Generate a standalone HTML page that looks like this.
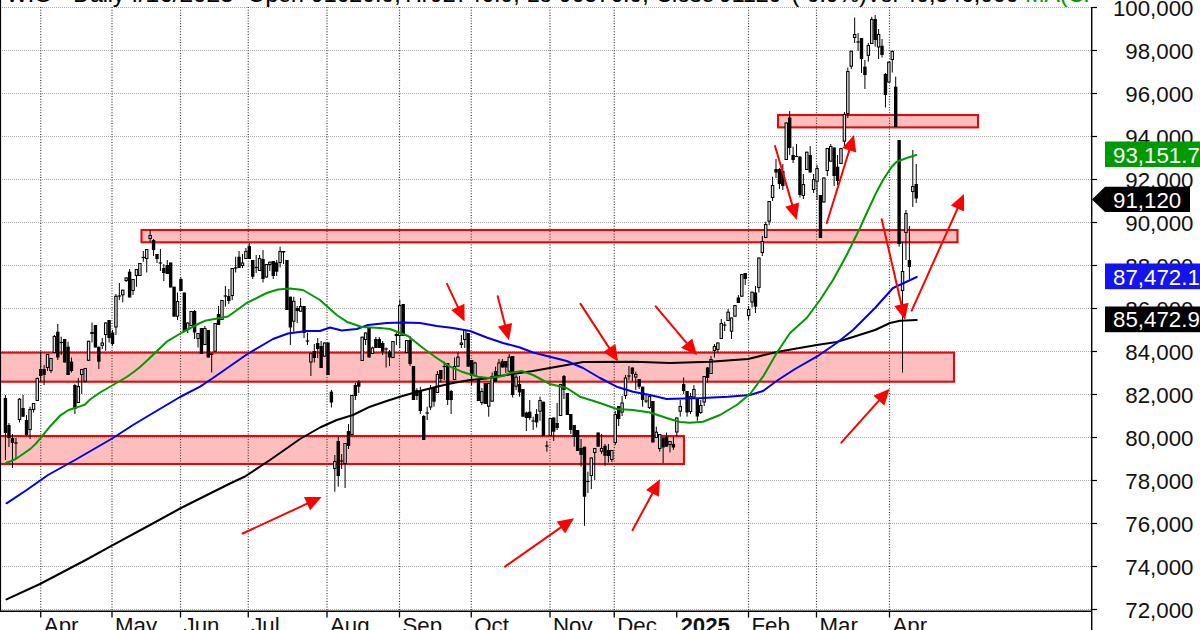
<!DOCTYPE html>
<html><head><meta charset="utf-8"><title>WIG - Daily</title>
<style>html,body{margin:0;padding:0;background:#fff;}svg{display:block;}text{font-family:"Liberation Sans",sans-serif;}</style></head>
<body>
<svg width="1200" height="630" viewBox="0 0 1200 630">
<rect x="0" y="0" width="1200" height="630" fill="#fff"/>
<g fill="#ffbebe" stroke="none">
<rect x="-3" y="352.6" width="957" height="29.1"/>
<rect x="-3" y="436" width="687" height="28.0"/>
<rect x="141.5" y="230" width="816.0" height="12.3"/>
<rect x="778" y="115" width="200" height="12.4"/>
</g>
<g stroke-width="1" fill="none">
<line x1="2" y1="609.5" x2="1091" y2="609.5" stroke="#a8a8a8" stroke-dasharray="1 1"/>
<line x1="2" y1="566.5" x2="1091" y2="566.5" stroke="#a8a8a8" stroke-dasharray="1 1"/>
<line x1="2" y1="523.5" x2="1091" y2="523.5" stroke="#a8a8a8" stroke-dasharray="1 1"/>
<line x1="2" y1="480.5" x2="1091" y2="480.5" stroke="#a8a8a8" stroke-dasharray="1 1"/>
<line x1="2" y1="437.5" x2="1091" y2="437.5" stroke="#a8a8a8" stroke-dasharray="1 1"/>
<line x1="2" y1="394.5" x2="1091" y2="394.5" stroke="#a8a8a8" stroke-dasharray="1 1"/>
<line x1="2" y1="351.5" x2="1091" y2="351.5" stroke="#a8a8a8" stroke-dasharray="1 1"/>
<line x1="2" y1="308.5" x2="1091" y2="308.5" stroke="#a8a8a8" stroke-dasharray="1 1"/>
<line x1="2" y1="265.5" x2="1091" y2="265.5" stroke="#a8a8a8" stroke-dasharray="1 1"/>
<line x1="2" y1="222.5" x2="1091" y2="222.5" stroke="#a8a8a8" stroke-dasharray="1 1"/>
<line x1="2" y1="179.5" x2="1091" y2="179.5" stroke="#a8a8a8" stroke-dasharray="1 1"/>
<line x1="2" y1="136.5" x2="1091" y2="136.5" stroke="#a8a8a8" stroke-dasharray="1 1"/>
<line x1="2" y1="93.5" x2="1091" y2="93.5" stroke="#a8a8a8" stroke-dasharray="1 1"/>
<line x1="2" y1="50.5" x2="1091" y2="50.5" stroke="#a8a8a8" stroke-dasharray="1 1"/>
<line x1="2" y1="7.5" x2="1091" y2="7.5" stroke="#a8a8a8" stroke-dasharray="1 1"/>
<line x1="40.75" y1="7" x2="40.75" y2="611" stroke="#3a3a3a" stroke-width="1.2" stroke-dasharray="1 1.7"/>
<line x1="112.00" y1="7" x2="112.00" y2="611" stroke="#3a3a3a" stroke-width="1.2" stroke-dasharray="1 1.7"/>
<line x1="180.50" y1="7" x2="180.50" y2="611" stroke="#3a3a3a" stroke-width="1.2" stroke-dasharray="1 1.7"/>
<line x1="248.25" y1="7" x2="248.25" y2="611" stroke="#3a3a3a" stroke-width="1.2" stroke-dasharray="1 1.7"/>
<line x1="327.00" y1="7" x2="327.00" y2="611" stroke="#3a3a3a" stroke-width="1.2" stroke-dasharray="1 1.7"/>
<line x1="399.50" y1="7" x2="399.50" y2="611" stroke="#3a3a3a" stroke-width="1.2" stroke-dasharray="1 1.7"/>
<line x1="471.25" y1="7" x2="471.25" y2="611" stroke="#3a3a3a" stroke-width="1.2" stroke-dasharray="1 1.7"/>
<line x1="550.00" y1="7" x2="550.00" y2="611" stroke="#3a3a3a" stroke-width="1.2" stroke-dasharray="1 1.7"/>
<line x1="614.25" y1="7" x2="614.25" y2="611" stroke="#3a3a3a" stroke-width="1.2" stroke-dasharray="1 1.7"/>
<line x1="748.50" y1="7" x2="748.50" y2="611" stroke="#3a3a3a" stroke-width="1.2" stroke-dasharray="1 1.7"/>
<line x1="816.50" y1="7" x2="816.50" y2="611" stroke="#3a3a3a" stroke-width="1.2" stroke-dasharray="1 1.7"/>
<line x1="889.50" y1="7" x2="889.50" y2="611" stroke="#3a3a3a" stroke-width="1.2" stroke-dasharray="1 1.7"/>
</g>
<g fill="none" stroke="#e00a0a" stroke-width="2.1">
<rect x="-3" y="352.6" width="957" height="29.1"/>
<rect x="-3" y="436" width="687" height="28.0"/>
<rect x="141.5" y="230" width="816.0" height="12.3"/>
<rect x="778" y="115" width="200" height="12.4"/>
</g>
<g stroke="#000" stroke-width="1">
<line x1="5.42" y1="395.0" x2="5.42" y2="460.0"/>
<rect x="3.72" y="398.0" width="3.4" height="35.0" fill="#000" stroke="none"/>
<line x1="8.94" y1="423.0" x2="8.94" y2="447.0"/>
<rect x="7.24" y="425.0" width="3.4" height="13.0" fill="#000" stroke="none"/>
<line x1="12.46" y1="434.0" x2="12.46" y2="468.0"/>
<rect x="10.76" y="438.0" width="3.4" height="5.0" fill="#000" stroke="none"/>
<line x1="15.98" y1="438.0" x2="15.98" y2="458.0"/>
<rect x="14.28" y="442.4" width="3.4" height="1.2" fill="#000" stroke="none"/>
<line x1="19.50" y1="398.0" x2="19.50" y2="422.5"/>
<rect x="18.30" y="399.2" width="2.4" height="20.3" fill="#e4e4e4" stroke-width="1.05"/>
<line x1="23.02" y1="395.0" x2="23.02" y2="417.0"/>
<rect x="21.32" y="408.0" width="3.4" height="8.7" fill="#000" stroke="none"/>
<line x1="26.54" y1="415.0" x2="26.54" y2="436.0"/>
<rect x="24.84" y="420.0" width="3.4" height="15.0" fill="#000" stroke="none"/>
<line x1="30.06" y1="406.7" x2="30.06" y2="439.0"/>
<rect x="28.86" y="409.5" width="2.4" height="20.0" fill="#e4e4e4" stroke-width="1.05"/>
<line x1="33.58" y1="403.0" x2="33.58" y2="412.5"/>
<rect x="32.38" y="403.5" width="2.4" height="6.0" fill="#e4e4e4" stroke-width="1.05"/>
<line x1="37.28" y1="377.5" x2="37.28" y2="401.0"/>
<rect x="36.08" y="378.5" width="2.4" height="22.0" fill="#e4e4e4" stroke-width="1.05"/>
<line x1="40.70" y1="351.7" x2="40.70" y2="381.7"/>
<rect x="39.00" y="369.0" width="3.4" height="7.0" fill="#000" stroke="none"/>
<line x1="44.12" y1="365.0" x2="44.12" y2="385.0"/>
<rect x="42.42" y="369.0" width="3.4" height="6.0" fill="#000" stroke="none"/>
<line x1="47.54" y1="354.0" x2="47.54" y2="371.0"/>
<rect x="46.34" y="354.5" width="2.4" height="13.0" fill="#e4e4e4" stroke-width="1.05"/>
<line x1="50.96" y1="358.0" x2="50.96" y2="373.0"/>
<rect x="49.76" y="358.5" width="2.4" height="12.0" fill="#e4e4e4" stroke-width="1.05"/>
<line x1="54.38" y1="335.0" x2="54.38" y2="353.0"/>
<rect x="53.18" y="336.5" width="2.4" height="16.0" fill="#e4e4e4" stroke-width="1.05"/>
<line x1="57.80" y1="324.0" x2="57.80" y2="360.0"/>
<rect x="56.10" y="331.7" width="3.4" height="25.8" fill="#000" stroke="none"/>
<line x1="61.22" y1="336.7" x2="61.22" y2="355.0"/>
<rect x="59.52" y="341.9" width="3.4" height="1.2" fill="#000" stroke="none"/>
<line x1="64.64" y1="339.0" x2="64.64" y2="362.5"/>
<rect x="62.94" y="339.0" width="3.4" height="23.5" fill="#000" stroke="none"/>
<line x1="68.06" y1="341.7" x2="68.06" y2="375.0"/>
<rect x="66.36" y="346.7" width="3.4" height="28.3" fill="#000" stroke="none"/>
<line x1="71.48" y1="357.5" x2="71.48" y2="372.5"/>
<rect x="69.78" y="361.7" width="3.4" height="9.3" fill="#000" stroke="none"/>
<line x1="74.90" y1="384.0" x2="74.90" y2="414.0"/>
<rect x="73.20" y="385.0" width="3.4" height="24.0" fill="#000" stroke="none"/>
<line x1="78.32" y1="378.0" x2="78.32" y2="403.0"/>
<rect x="77.12" y="386.5" width="2.4" height="16.0" fill="#e4e4e4" stroke-width="1.05"/>
<line x1="81.74" y1="369.0" x2="81.74" y2="394.0"/>
<rect x="80.54" y="369.5" width="2.4" height="5.0" fill="#e4e4e4" stroke-width="1.05"/>
<line x1="85.16" y1="368.0" x2="85.16" y2="382.5"/>
<rect x="83.96" y="368.5" width="2.4" height="12.7" fill="#e4e4e4" stroke-width="1.05"/>
<line x1="88.58" y1="340.8" x2="88.58" y2="360.8"/>
<rect x="87.38" y="341.3" width="2.4" height="19.0" fill="#e4e4e4" stroke-width="1.05"/>
<line x1="92.00" y1="322.5" x2="92.00" y2="342.5"/>
<rect x="90.30" y="332.0" width="3.4" height="2.0" fill="#000" stroke="none"/>
<line x1="95.42" y1="325.0" x2="95.42" y2="347.5"/>
<rect x="93.72" y="325.0" width="3.4" height="22.5" fill="#000" stroke="none"/>
<line x1="98.84" y1="346.7" x2="98.84" y2="369.0"/>
<rect x="97.14" y="346.7" width="3.4" height="15.0" fill="#000" stroke="none"/>
<line x1="102.26" y1="338.0" x2="102.26" y2="349.0"/>
<rect x="101.06" y="343.0" width="2.4" height="2.3" fill="#e4e4e4" stroke-width="1.05"/>
<line x1="105.68" y1="322.5" x2="105.68" y2="350.8"/>
<rect x="104.48" y="323.0" width="2.4" height="11.5" fill="#e4e4e4" stroke-width="1.05"/>
<line x1="109.10" y1="320.0" x2="109.10" y2="342.5"/>
<rect x="107.40" y="320.0" width="3.4" height="18.0" fill="#000" stroke="none"/>
<line x1="112.52" y1="330.0" x2="112.52" y2="345.8"/>
<rect x="110.82" y="332.5" width="3.4" height="11.5" fill="#000" stroke="none"/>
<line x1="115.94" y1="294.0" x2="115.94" y2="335.0"/>
<rect x="114.74" y="296.3" width="2.4" height="30.7" fill="#e4e4e4" stroke-width="1.05"/>
<line x1="119.36" y1="283.0" x2="119.36" y2="300.0"/>
<rect x="117.66" y="295.4" width="3.4" height="1.2" fill="#000" stroke="none"/>
<line x1="122.78" y1="289.7" x2="122.78" y2="302.5"/>
<rect x="121.58" y="290.2" width="2.4" height="4.6" fill="#e4e4e4" stroke-width="1.05"/>
<line x1="126.20" y1="277.0" x2="126.20" y2="282.0"/>
<rect x="125.00" y="278.0" width="2.4" height="2.5" fill="#e4e4e4" stroke-width="1.05"/>
<line x1="129.62" y1="269.0" x2="129.62" y2="297.5"/>
<rect x="127.92" y="271.7" width="3.4" height="25.8" fill="#000" stroke="none"/>
<line x1="133.04" y1="279.0" x2="133.04" y2="295.0"/>
<rect x="131.84" y="279.5" width="2.4" height="11.0" fill="#e4e4e4" stroke-width="1.05"/>
<line x1="136.46" y1="269.0" x2="136.46" y2="286.7"/>
<rect x="135.26" y="269.5" width="2.4" height="6.0" fill="#e4e4e4" stroke-width="1.05"/>
<line x1="139.88" y1="263.0" x2="139.88" y2="276.0"/>
<rect x="138.68" y="263.5" width="2.4" height="12.0" fill="#e4e4e4" stroke-width="1.05"/>
<line x1="143.30" y1="251.0" x2="143.30" y2="261.7"/>
<rect x="141.60" y="256.9" width="3.4" height="1.2" fill="#000" stroke="none"/>
<line x1="146.72" y1="249.0" x2="146.72" y2="272.5"/>
<rect x="145.52" y="249.5" width="2.4" height="9.0" fill="#e4e4e4" stroke-width="1.05"/>
<line x1="150.14" y1="230.0" x2="150.14" y2="241.7"/>
<rect x="148.94" y="235.5" width="2.4" height="3.0" fill="#e4e4e4" stroke-width="1.05"/>
<line x1="153.56" y1="239.0" x2="153.56" y2="256.0"/>
<rect x="151.86" y="240.0" width="3.4" height="10.0" fill="#000" stroke="none"/>
<line x1="156.98" y1="254.0" x2="156.98" y2="263.0"/>
<rect x="155.28" y="254.0" width="3.4" height="5.0" fill="#000" stroke="none"/>
<line x1="160.40" y1="249.0" x2="160.40" y2="271.0"/>
<rect x="158.70" y="262.4" width="3.4" height="1.2" fill="#000" stroke="none"/>
<line x1="163.82" y1="264.0" x2="163.82" y2="281.0"/>
<rect x="162.12" y="268.0" width="3.4" height="5.0" fill="#000" stroke="none"/>
<line x1="167.24" y1="260.0" x2="167.24" y2="274.0"/>
<rect x="165.54" y="265.0" width="3.4" height="9.0" fill="#000" stroke="none"/>
<line x1="170.66" y1="262.5" x2="170.66" y2="287.5"/>
<rect x="168.96" y="262.5" width="3.4" height="25.0" fill="#000" stroke="none"/>
<line x1="174.08" y1="286.7" x2="174.08" y2="316.7"/>
<rect x="172.38" y="286.7" width="3.4" height="30.0" fill="#000" stroke="none"/>
<line x1="177.50" y1="292.5" x2="177.50" y2="320.0"/>
<rect x="176.30" y="301.5" width="2.4" height="14.7" fill="#e4e4e4" stroke-width="1.05"/>
<line x1="180.92" y1="277.5" x2="180.92" y2="291.0"/>
<rect x="179.22" y="279.0" width="3.4" height="12.0" fill="#000" stroke="none"/>
<line x1="184.34" y1="292.5" x2="184.34" y2="331.0"/>
<rect x="182.64" y="292.5" width="3.4" height="38.5" fill="#000" stroke="none"/>
<line x1="187.76" y1="322.5" x2="187.76" y2="333.0"/>
<rect x="186.56" y="323.0" width="2.4" height="6.5" fill="#e4e4e4" stroke-width="1.05"/>
<line x1="191.18" y1="311.0" x2="191.18" y2="326.0"/>
<rect x="189.98" y="311.5" width="2.4" height="14.0" fill="#e4e4e4" stroke-width="1.05"/>
<line x1="194.60" y1="310.0" x2="194.60" y2="339.0"/>
<rect x="192.90" y="311.0" width="3.4" height="21.5" fill="#000" stroke="none"/>
<line x1="198.02" y1="333.0" x2="198.02" y2="347.5"/>
<rect x="196.82" y="333.5" width="2.4" height="5.0" fill="#e4e4e4" stroke-width="1.05"/>
<line x1="201.44" y1="328.0" x2="201.44" y2="354.0"/>
<rect x="199.74" y="328.0" width="3.4" height="26.0" fill="#000" stroke="none"/>
<line x1="204.86" y1="326.0" x2="204.86" y2="345.0"/>
<rect x="203.66" y="328.5" width="2.4" height="16.0" fill="#e4e4e4" stroke-width="1.05"/>
<line x1="208.28" y1="330.0" x2="208.28" y2="357.5"/>
<rect x="206.58" y="330.0" width="3.4" height="27.5" fill="#000" stroke="none"/>
<line x1="211.70" y1="353.0" x2="211.70" y2="372.5"/>
<rect x="210.00" y="353.5" width="3.4" height="1.5" fill="#000" stroke="none"/>
<line x1="215.12" y1="323.0" x2="215.12" y2="351.7"/>
<rect x="213.92" y="323.5" width="2.4" height="27.7" fill="#e4e4e4" stroke-width="1.05"/>
<line x1="218.54" y1="306.0" x2="218.54" y2="325.0"/>
<rect x="216.84" y="314.0" width="3.4" height="11.0" fill="#000" stroke="none"/>
<line x1="221.96" y1="300.0" x2="221.96" y2="320.0"/>
<rect x="220.76" y="300.5" width="2.4" height="19.0" fill="#e4e4e4" stroke-width="1.05"/>
<line x1="225.38" y1="286.0" x2="225.38" y2="306.7"/>
<rect x="223.68" y="295.4" width="3.4" height="1.2" fill="#000" stroke="none"/>
<line x1="228.80" y1="289.0" x2="228.80" y2="304.0"/>
<rect x="227.10" y="296.0" width="3.4" height="5.0" fill="#000" stroke="none"/>
<line x1="232.22" y1="268.0" x2="232.22" y2="300.0"/>
<rect x="231.02" y="268.5" width="2.4" height="27.0" fill="#e4e4e4" stroke-width="1.05"/>
<line x1="235.64" y1="256.7" x2="235.64" y2="272.5"/>
<rect x="233.94" y="267.4" width="3.4" height="1.2" fill="#000" stroke="none"/>
<line x1="239.06" y1="251.0" x2="239.06" y2="268.0"/>
<rect x="237.36" y="256.7" width="3.4" height="11.3" fill="#000" stroke="none"/>
<line x1="242.48" y1="254.0" x2="242.48" y2="268.0"/>
<rect x="241.28" y="263.0" width="2.4" height="2.5" fill="#e4e4e4" stroke-width="1.05"/>
<line x1="245.90" y1="248.0" x2="245.90" y2="259.0"/>
<rect x="244.70" y="251.5" width="2.4" height="7.0" fill="#e4e4e4" stroke-width="1.05"/>
<line x1="249.32" y1="243.0" x2="249.32" y2="259.0"/>
<rect x="247.62" y="246.0" width="3.4" height="13.0" fill="#000" stroke="none"/>
<line x1="252.74" y1="260.0" x2="252.74" y2="279.0"/>
<rect x="251.04" y="260.0" width="3.4" height="16.7" fill="#000" stroke="none"/>
<line x1="256.16" y1="255.0" x2="256.16" y2="273.0"/>
<rect x="254.46" y="266.9" width="3.4" height="1.2" fill="#000" stroke="none"/>
<line x1="259.58" y1="255.0" x2="259.58" y2="271.0"/>
<rect x="258.38" y="258.5" width="2.4" height="12.0" fill="#e4e4e4" stroke-width="1.05"/>
<line x1="263.00" y1="250.0" x2="263.00" y2="282.5"/>
<rect x="261.30" y="259.0" width="3.4" height="20.0" fill="#000" stroke="none"/>
<line x1="266.42" y1="264.0" x2="266.42" y2="277.5"/>
<rect x="265.22" y="264.5" width="2.4" height="12.5" fill="#e4e4e4" stroke-width="1.05"/>
<line x1="269.84" y1="261.7" x2="269.84" y2="271.0"/>
<rect x="268.64" y="262.2" width="2.4" height="2.3" fill="#e4e4e4" stroke-width="1.05"/>
<line x1="273.26" y1="261.0" x2="273.26" y2="279.0"/>
<rect x="271.56" y="261.0" width="3.4" height="15.0" fill="#000" stroke="none"/>
<line x1="276.68" y1="260.0" x2="276.68" y2="276.0"/>
<rect x="274.98" y="262.5" width="3.4" height="9.2" fill="#000" stroke="none"/>
<line x1="280.10" y1="246.7" x2="280.10" y2="267.5"/>
<rect x="278.90" y="251.5" width="2.4" height="11.0" fill="#e4e4e4" stroke-width="1.05"/>
<line x1="283.52" y1="251.0" x2="283.52" y2="264.0"/>
<rect x="281.82" y="251.0" width="3.4" height="1.5" fill="#000" stroke="none"/>
<line x1="286.94" y1="260.0" x2="286.94" y2="310.0"/>
<rect x="285.24" y="260.0" width="3.4" height="50.0" fill="#000" stroke="none"/>
<line x1="290.36" y1="296.7" x2="290.36" y2="345.0"/>
<rect x="288.66" y="296.7" width="3.4" height="30.8" fill="#000" stroke="none"/>
<line x1="293.78" y1="296.7" x2="293.78" y2="331.7"/>
<rect x="292.58" y="301.3" width="2.4" height="19.9" fill="#e4e4e4" stroke-width="1.05"/>
<line x1="297.20" y1="306.0" x2="297.20" y2="323.0"/>
<rect x="295.50" y="308.0" width="3.4" height="3.0" fill="#000" stroke="none"/>
<line x1="300.62" y1="298.0" x2="300.62" y2="311.7"/>
<rect x="299.42" y="306.5" width="2.4" height="4.7" fill="#e4e4e4" stroke-width="1.05"/>
<line x1="304.04" y1="306.0" x2="304.04" y2="338.0"/>
<rect x="302.34" y="306.0" width="3.4" height="27.0" fill="#000" stroke="none"/>
<line x1="307.46" y1="332.5" x2="307.46" y2="345.0"/>
<rect x="305.76" y="340.4" width="3.4" height="1.2" fill="#000" stroke="none"/>
<line x1="310.88" y1="353.0" x2="310.88" y2="376.0"/>
<rect x="309.68" y="353.5" width="2.4" height="8.5" fill="#e4e4e4" stroke-width="1.05"/>
<line x1="314.30" y1="344.0" x2="314.30" y2="362.5"/>
<rect x="312.60" y="351.0" width="3.4" height="7.0" fill="#000" stroke="none"/>
<line x1="317.72" y1="338.0" x2="317.72" y2="358.0"/>
<rect x="316.02" y="343.0" width="3.4" height="6.0" fill="#000" stroke="none"/>
<line x1="321.14" y1="341.0" x2="321.14" y2="368.0"/>
<rect x="319.44" y="346.0" width="3.4" height="22.0" fill="#000" stroke="none"/>
<line x1="324.56" y1="342.5" x2="324.56" y2="356.7"/>
<rect x="323.36" y="343.0" width="2.4" height="13.2" fill="#e4e4e4" stroke-width="1.05"/>
<line x1="327.98" y1="342.5" x2="327.98" y2="375.0"/>
<rect x="326.28" y="342.5" width="3.4" height="32.5" fill="#000" stroke="none"/>
<line x1="331.40" y1="390.0" x2="331.40" y2="407.5"/>
<rect x="329.70" y="391.7" width="3.4" height="10.8" fill="#000" stroke="none"/>
<line x1="334.82" y1="455.0" x2="334.82" y2="491.7"/>
<rect x="333.62" y="461.5" width="2.4" height="7.0" fill="#e4e4e4" stroke-width="1.05"/>
<line x1="338.24" y1="436.7" x2="338.24" y2="486.7"/>
<rect x="336.54" y="441.0" width="3.4" height="35.0" fill="#000" stroke="none"/>
<line x1="341.66" y1="454.0" x2="341.66" y2="469.0"/>
<rect x="339.96" y="460.4" width="3.4" height="1.2" fill="#000" stroke="none"/>
<line x1="345.08" y1="443.0" x2="345.08" y2="488.0"/>
<rect x="343.88" y="443.5" width="2.4" height="20.0" fill="#e4e4e4" stroke-width="1.05"/>
<line x1="348.50" y1="424.0" x2="348.50" y2="449.0"/>
<rect x="346.80" y="431.0" width="3.4" height="15.0" fill="#000" stroke="none"/>
<line x1="351.92" y1="395.0" x2="351.92" y2="435.0"/>
<rect x="350.72" y="395.5" width="2.4" height="39.0" fill="#e4e4e4" stroke-width="1.05"/>
<line x1="355.34" y1="383.0" x2="355.34" y2="400.0"/>
<rect x="353.64" y="385.0" width="3.4" height="11.0" fill="#000" stroke="none"/>
<line x1="358.76" y1="380.0" x2="358.76" y2="393.0"/>
<rect x="357.06" y="381.7" width="3.4" height="5.0" fill="#000" stroke="none"/>
<line x1="362.18" y1="336.7" x2="362.18" y2="361.0"/>
<rect x="360.98" y="337.2" width="2.4" height="23.3" fill="#e4e4e4" stroke-width="1.05"/>
<line x1="365.60" y1="332.5" x2="365.60" y2="345.0"/>
<rect x="364.40" y="333.0" width="2.4" height="6.5" fill="#e4e4e4" stroke-width="1.05"/>
<line x1="369.02" y1="327.5" x2="369.02" y2="357.5"/>
<rect x="367.32" y="327.5" width="3.4" height="30.0" fill="#000" stroke="none"/>
<line x1="372.44" y1="346.7" x2="372.44" y2="354.0"/>
<rect x="371.24" y="348.0" width="2.4" height="5.5" fill="#e4e4e4" stroke-width="1.05"/>
<line x1="375.86" y1="337.0" x2="375.86" y2="348.0"/>
<rect x="374.16" y="339.0" width="3.4" height="9.0" fill="#000" stroke="none"/>
<line x1="379.28" y1="337.0" x2="379.28" y2="348.0"/>
<rect x="377.58" y="339.0" width="3.4" height="9.0" fill="#000" stroke="none"/>
<line x1="382.70" y1="341.0" x2="382.70" y2="355.0"/>
<rect x="381.00" y="343.0" width="3.4" height="8.7" fill="#000" stroke="none"/>
<line x1="386.12" y1="347.5" x2="386.12" y2="367.5"/>
<rect x="384.42" y="348.4" width="3.4" height="1.2" fill="#000" stroke="none"/>
<line x1="389.54" y1="350.0" x2="389.54" y2="366.0"/>
<rect x="387.84" y="351.7" width="3.4" height="5.8" fill="#000" stroke="none"/>
<line x1="392.96" y1="341.0" x2="392.96" y2="358.0"/>
<rect x="391.76" y="341.5" width="2.4" height="16.0" fill="#e4e4e4" stroke-width="1.05"/>
<line x1="396.38" y1="332.5" x2="396.38" y2="345.0"/>
<rect x="395.18" y="334.5" width="2.4" height="1.0" fill="#e4e4e4" stroke-width="1.05"/>
<line x1="399.80" y1="300.0" x2="399.80" y2="348.0"/>
<rect x="398.60" y="305.5" width="2.4" height="30.0" fill="#e4e4e4" stroke-width="1.05"/>
<line x1="403.22" y1="304.0" x2="403.22" y2="336.0"/>
<rect x="401.52" y="304.0" width="3.4" height="32.0" fill="#000" stroke="none"/>
<line x1="406.64" y1="340.0" x2="406.64" y2="353.0"/>
<rect x="405.44" y="340.5" width="2.4" height="12.0" fill="#e4e4e4" stroke-width="1.05"/>
<line x1="410.06" y1="336.0" x2="410.06" y2="366.0"/>
<rect x="408.36" y="340.0" width="3.4" height="24.0" fill="#000" stroke="none"/>
<line x1="413.48" y1="366.0" x2="413.48" y2="400.0"/>
<rect x="411.78" y="366.0" width="3.4" height="34.0" fill="#000" stroke="none"/>
<line x1="416.90" y1="388.0" x2="416.90" y2="400.0"/>
<rect x="415.20" y="390.0" width="3.4" height="6.0" fill="#000" stroke="none"/>
<line x1="420.32" y1="386.7" x2="420.32" y2="414.0"/>
<rect x="418.62" y="391.0" width="3.4" height="20.0" fill="#000" stroke="none"/>
<line x1="423.74" y1="415.0" x2="423.74" y2="440.0"/>
<rect x="422.04" y="416.0" width="3.4" height="24.0" fill="#000" stroke="none"/>
<line x1="427.16" y1="406.7" x2="427.16" y2="420.0"/>
<rect x="425.46" y="412.4" width="3.4" height="1.2" fill="#000" stroke="none"/>
<line x1="430.58" y1="385.0" x2="430.58" y2="410.0"/>
<rect x="429.38" y="388.5" width="2.4" height="18.5" fill="#e4e4e4" stroke-width="1.05"/>
<line x1="434.00" y1="387.0" x2="434.00" y2="406.7"/>
<rect x="432.30" y="387.5" width="3.4" height="14.2" fill="#000" stroke="none"/>
<line x1="437.42" y1="371.0" x2="437.42" y2="393.0"/>
<rect x="436.22" y="374.5" width="2.4" height="18.0" fill="#e4e4e4" stroke-width="1.05"/>
<line x1="440.84" y1="370.0" x2="440.84" y2="382.5"/>
<rect x="439.14" y="370.0" width="3.4" height="9.0" fill="#000" stroke="none"/>
<line x1="444.26" y1="361.7" x2="444.26" y2="380.0"/>
<rect x="442.56" y="365.9" width="3.4" height="1.2" fill="#000" stroke="none"/>
<line x1="447.68" y1="363.0" x2="447.68" y2="405.0"/>
<rect x="445.98" y="363.0" width="3.4" height="37.0" fill="#000" stroke="none"/>
<line x1="451.10" y1="390.0" x2="451.10" y2="414.0"/>
<rect x="449.40" y="391.0" width="3.4" height="9.0" fill="#000" stroke="none"/>
<line x1="454.52" y1="357.5" x2="454.52" y2="380.0"/>
<rect x="453.32" y="366.5" width="2.4" height="13.0" fill="#e4e4e4" stroke-width="1.05"/>
<line x1="457.94" y1="352.5" x2="457.94" y2="366.7"/>
<rect x="456.74" y="357.2" width="2.4" height="9.0" fill="#e4e4e4" stroke-width="1.05"/>
<line x1="461.36" y1="335.0" x2="461.36" y2="348.0"/>
<rect x="460.16" y="343.0" width="2.4" height="1.5" fill="#e4e4e4" stroke-width="1.05"/>
<line x1="464.78" y1="330.0" x2="464.78" y2="348.0"/>
<rect x="463.58" y="330.5" width="2.4" height="9.0" fill="#e4e4e4" stroke-width="1.05"/>
<line x1="468.20" y1="333.0" x2="468.20" y2="366.7"/>
<rect x="466.50" y="333.0" width="3.4" height="33.7" fill="#000" stroke="none"/>
<line x1="471.62" y1="360.0" x2="471.62" y2="385.0"/>
<rect x="469.92" y="360.0" width="3.4" height="16.0" fill="#000" stroke="none"/>
<line x1="475.04" y1="361.7" x2="475.04" y2="376.7"/>
<rect x="473.84" y="363.0" width="2.4" height="12.5" fill="#e4e4e4" stroke-width="1.05"/>
<line x1="478.46" y1="379.0" x2="478.46" y2="401.0"/>
<rect x="476.76" y="379.0" width="3.4" height="22.0" fill="#000" stroke="none"/>
<line x1="481.88" y1="388.0" x2="481.88" y2="405.0"/>
<rect x="480.68" y="391.5" width="2.4" height="11.0" fill="#e4e4e4" stroke-width="1.05"/>
<line x1="485.30" y1="383.0" x2="485.30" y2="404.0"/>
<rect x="483.60" y="383.0" width="3.4" height="21.0" fill="#000" stroke="none"/>
<line x1="488.72" y1="383.0" x2="488.72" y2="416.7"/>
<rect x="487.52" y="383.5" width="2.4" height="22.7" fill="#e4e4e4" stroke-width="1.05"/>
<line x1="492.14" y1="372.5" x2="492.14" y2="401.7"/>
<rect x="490.94" y="376.5" width="2.4" height="24.7" fill="#e4e4e4" stroke-width="1.05"/>
<line x1="495.56" y1="366.7" x2="495.56" y2="381.7"/>
<rect x="493.86" y="371.0" width="3.4" height="10.7" fill="#000" stroke="none"/>
<line x1="498.98" y1="359.0" x2="498.98" y2="376.0"/>
<rect x="497.78" y="363.0" width="2.4" height="12.5" fill="#e4e4e4" stroke-width="1.05"/>
<line x1="502.40" y1="359.0" x2="502.40" y2="367.5"/>
<rect x="500.70" y="361.0" width="3.4" height="6.5" fill="#000" stroke="none"/>
<line x1="505.82" y1="361.0" x2="505.82" y2="373.0"/>
<rect x="504.12" y="361.0" width="3.4" height="6.5" fill="#000" stroke="none"/>
<line x1="509.24" y1="354.0" x2="509.24" y2="371.7"/>
<rect x="508.04" y="357.2" width="2.4" height="14.0" fill="#e4e4e4" stroke-width="1.05"/>
<line x1="512.66" y1="356.0" x2="512.66" y2="397.5"/>
<rect x="510.96" y="356.0" width="3.4" height="39.0" fill="#000" stroke="none"/>
<line x1="516.08" y1="375.0" x2="516.08" y2="390.0"/>
<rect x="514.88" y="377.2" width="2.4" height="9.0" fill="#e4e4e4" stroke-width="1.05"/>
<line x1="519.50" y1="376.0" x2="519.50" y2="396.7"/>
<rect x="517.80" y="384.0" width="3.4" height="8.5" fill="#000" stroke="none"/>
<line x1="522.92" y1="389.0" x2="522.92" y2="416.7"/>
<rect x="521.22" y="389.0" width="3.4" height="27.7" fill="#000" stroke="none"/>
<line x1="526.34" y1="411.7" x2="526.34" y2="431.0"/>
<rect x="524.64" y="412.5" width="3.4" height="5.5" fill="#000" stroke="none"/>
<line x1="529.76" y1="400.0" x2="529.76" y2="420.0"/>
<rect x="528.06" y="411.7" width="3.4" height="6.3" fill="#000" stroke="none"/>
<line x1="533.18" y1="416.7" x2="533.18" y2="430.0"/>
<rect x="531.48" y="420.4" width="3.4" height="1.2" fill="#000" stroke="none"/>
<line x1="536.60" y1="409.0" x2="536.60" y2="427.5"/>
<rect x="534.90" y="414.0" width="3.4" height="8.5" fill="#000" stroke="none"/>
<line x1="540.02" y1="396.7" x2="540.02" y2="420.8"/>
<rect x="538.82" y="400.5" width="2.4" height="10.7" fill="#e4e4e4" stroke-width="1.05"/>
<line x1="543.44" y1="401.7" x2="543.44" y2="436.0"/>
<rect x="541.74" y="401.7" width="3.4" height="34.3" fill="#000" stroke="none"/>
<line x1="546.86" y1="441.0" x2="546.86" y2="451.7"/>
<rect x="545.16" y="445.4" width="3.4" height="1.2" fill="#000" stroke="none"/>
<line x1="550.28" y1="418.0" x2="550.28" y2="436.0"/>
<rect x="549.08" y="418.5" width="2.4" height="17.0" fill="#e4e4e4" stroke-width="1.05"/>
<line x1="553.70" y1="417.5" x2="553.70" y2="441.0"/>
<rect x="552.00" y="417.5" width="3.4" height="14.2" fill="#000" stroke="none"/>
<line x1="557.12" y1="403.0" x2="557.12" y2="430.0"/>
<rect x="555.42" y="423.0" width="3.4" height="5.0" fill="#000" stroke="none"/>
<line x1="560.54" y1="384.0" x2="560.54" y2="416.0"/>
<rect x="559.34" y="384.5" width="2.4" height="31.0" fill="#e4e4e4" stroke-width="1.05"/>
<line x1="563.96" y1="375.0" x2="563.96" y2="399.0"/>
<rect x="562.26" y="376.0" width="3.4" height="14.0" fill="#000" stroke="none"/>
<line x1="567.38" y1="393.0" x2="567.38" y2="415.0"/>
<rect x="565.68" y="393.0" width="3.4" height="22.0" fill="#000" stroke="none"/>
<line x1="570.80" y1="414.0" x2="570.80" y2="434.0"/>
<rect x="569.10" y="414.0" width="3.4" height="16.0" fill="#000" stroke="none"/>
<line x1="574.22" y1="425.0" x2="574.22" y2="446.7"/>
<rect x="572.52" y="425.0" width="3.4" height="12.0" fill="#000" stroke="none"/>
<line x1="577.64" y1="430.0" x2="577.64" y2="451.0"/>
<rect x="575.94" y="430.0" width="3.4" height="21.0" fill="#000" stroke="none"/>
<line x1="581.06" y1="439.0" x2="581.06" y2="466.7"/>
<rect x="579.36" y="448.0" width="3.4" height="7.0" fill="#000" stroke="none"/>
<line x1="584.48" y1="446.7" x2="584.48" y2="525.8"/>
<rect x="582.78" y="446.7" width="3.4" height="50.0" fill="#000" stroke="none"/>
<line x1="587.90" y1="471.7" x2="587.90" y2="493.0"/>
<rect x="586.20" y="480.9" width="3.4" height="1.2" fill="#000" stroke="none"/>
<line x1="591.32" y1="457.5" x2="591.32" y2="489.0"/>
<rect x="590.12" y="458.0" width="2.4" height="17.5" fill="#e4e4e4" stroke-width="1.05"/>
<line x1="594.74" y1="448.0" x2="594.74" y2="480.0"/>
<rect x="593.54" y="448.5" width="2.4" height="4.0" fill="#e4e4e4" stroke-width="1.05"/>
<line x1="598.16" y1="432.5" x2="598.16" y2="446.7"/>
<rect x="596.46" y="432.5" width="3.4" height="14.2" fill="#000" stroke="none"/>
<line x1="601.58" y1="434.0" x2="601.58" y2="454.0"/>
<rect x="600.38" y="448.5" width="2.4" height="2.7" fill="#e4e4e4" stroke-width="1.05"/>
<line x1="605.00" y1="444.0" x2="605.00" y2="465.8"/>
<rect x="603.30" y="445.8" width="3.4" height="10.0" fill="#000" stroke="none"/>
<line x1="608.42" y1="444.0" x2="608.42" y2="462.5"/>
<rect x="606.72" y="450.0" width="3.4" height="6.0" fill="#000" stroke="none"/>
<line x1="611.84" y1="450.0" x2="611.84" y2="462.0"/>
<rect x="610.64" y="450.5" width="2.4" height="9.0" fill="#e4e4e4" stroke-width="1.05"/>
<line x1="615.26" y1="411.0" x2="615.26" y2="445.0"/>
<rect x="614.06" y="414.5" width="2.4" height="28.0" fill="#e4e4e4" stroke-width="1.05"/>
<line x1="618.68" y1="406.0" x2="618.68" y2="426.0"/>
<rect x="616.98" y="406.0" width="3.4" height="13.0" fill="#000" stroke="none"/>
<line x1="622.10" y1="396.0" x2="622.10" y2="416.0"/>
<rect x="620.90" y="403.0" width="2.4" height="9.0" fill="#e4e4e4" stroke-width="1.05"/>
<line x1="625.52" y1="375.0" x2="625.52" y2="399.0"/>
<rect x="624.32" y="378.0" width="2.4" height="17.5" fill="#e4e4e4" stroke-width="1.05"/>
<line x1="628.94" y1="366.0" x2="628.94" y2="380.0"/>
<rect x="627.24" y="375.4" width="3.4" height="1.2" fill="#000" stroke="none"/>
<line x1="632.36" y1="367.5" x2="632.36" y2="381.0"/>
<rect x="630.66" y="367.5" width="3.4" height="6.5" fill="#000" stroke="none"/>
<line x1="635.78" y1="371.7" x2="635.78" y2="390.0"/>
<rect x="634.58" y="374.5" width="2.4" height="2.5" fill="#e4e4e4" stroke-width="1.05"/>
<line x1="639.20" y1="379.0" x2="639.20" y2="389.0"/>
<rect x="637.50" y="379.0" width="3.4" height="7.7" fill="#000" stroke="none"/>
<line x1="642.62" y1="386.7" x2="642.62" y2="406.7"/>
<rect x="640.92" y="386.7" width="3.4" height="13.3" fill="#000" stroke="none"/>
<line x1="646.04" y1="394.0" x2="646.04" y2="403.0"/>
<rect x="644.34" y="400.4" width="3.4" height="1.2" fill="#000" stroke="none"/>
<line x1="649.46" y1="395.0" x2="649.46" y2="409.0"/>
<rect x="648.26" y="396.5" width="2.4" height="11.0" fill="#e4e4e4" stroke-width="1.05"/>
<line x1="652.88" y1="401.0" x2="652.88" y2="442.5"/>
<rect x="651.18" y="401.0" width="3.4" height="41.5" fill="#000" stroke="none"/>
<line x1="656.30" y1="426.7" x2="656.30" y2="438.0"/>
<rect x="655.10" y="432.2" width="2.4" height="5.3" fill="#e4e4e4" stroke-width="1.05"/>
<line x1="659.72" y1="434.0" x2="659.72" y2="451.7"/>
<rect x="658.52" y="434.5" width="2.4" height="14.0" fill="#e4e4e4" stroke-width="1.05"/>
<line x1="663.14" y1="437.5" x2="663.14" y2="463.0"/>
<rect x="661.44" y="437.5" width="3.4" height="10.0" fill="#000" stroke="none"/>
<line x1="666.56" y1="432.5" x2="666.56" y2="446.7"/>
<rect x="664.86" y="436.7" width="3.4" height="10.0" fill="#000" stroke="none"/>
<line x1="669.98" y1="441.0" x2="669.98" y2="452.5"/>
<rect x="668.78" y="441.5" width="2.4" height="3.0" fill="#e4e4e4" stroke-width="1.05"/>
<line x1="673.40" y1="436.7" x2="673.40" y2="450.0"/>
<rect x="671.70" y="444.0" width="3.4" height="3.5" fill="#000" stroke="none"/>
<line x1="676.82" y1="417.5" x2="676.82" y2="436.0"/>
<rect x="675.62" y="418.0" width="2.4" height="14.0" fill="#e4e4e4" stroke-width="1.05"/>
<line x1="680.24" y1="400.0" x2="680.24" y2="416.7"/>
<rect x="679.04" y="406.5" width="2.4" height="4.7" fill="#e4e4e4" stroke-width="1.05"/>
<line x1="683.66" y1="377.5" x2="683.66" y2="394.0"/>
<rect x="681.96" y="384.0" width="3.4" height="7.0" fill="#000" stroke="none"/>
<line x1="687.08" y1="391.0" x2="687.08" y2="416.7"/>
<rect x="685.38" y="391.0" width="3.4" height="21.5" fill="#000" stroke="none"/>
<line x1="690.50" y1="393.0" x2="690.50" y2="414.0"/>
<rect x="689.30" y="396.5" width="2.4" height="15.0" fill="#e4e4e4" stroke-width="1.05"/>
<line x1="693.92" y1="385.0" x2="693.92" y2="398.0"/>
<rect x="692.72" y="389.5" width="2.4" height="7.5" fill="#e4e4e4" stroke-width="1.05"/>
<line x1="697.34" y1="398.0" x2="697.34" y2="420.8"/>
<rect x="695.64" y="398.0" width="3.4" height="18.5" fill="#000" stroke="none"/>
<line x1="700.76" y1="400.0" x2="700.76" y2="414.0"/>
<rect x="699.56" y="405.5" width="2.4" height="7.0" fill="#e4e4e4" stroke-width="1.05"/>
<line x1="704.18" y1="376.0" x2="704.18" y2="406.0"/>
<rect x="702.98" y="376.5" width="2.4" height="25.5" fill="#e4e4e4" stroke-width="1.05"/>
<line x1="707.60" y1="367.0" x2="707.60" y2="382.5"/>
<rect x="705.90" y="367.5" width="3.4" height="10.5" fill="#000" stroke="none"/>
<line x1="711.02" y1="356.0" x2="711.02" y2="374.0"/>
<rect x="709.82" y="359.5" width="2.4" height="14.0" fill="#e4e4e4" stroke-width="1.05"/>
<line x1="714.44" y1="344.0" x2="714.44" y2="357.5"/>
<rect x="713.24" y="346.5" width="2.4" height="4.0" fill="#e4e4e4" stroke-width="1.05"/>
<line x1="717.86" y1="342.5" x2="717.86" y2="352.5"/>
<rect x="716.66" y="343.0" width="2.4" height="6.5" fill="#e4e4e4" stroke-width="1.05"/>
<line x1="721.28" y1="319.0" x2="721.28" y2="339.0"/>
<rect x="720.08" y="323.5" width="2.4" height="15.0" fill="#e4e4e4" stroke-width="1.05"/>
<line x1="724.70" y1="321.7" x2="724.70" y2="331.0"/>
<rect x="723.00" y="324.4" width="3.4" height="1.2" fill="#000" stroke="none"/>
<line x1="728.12" y1="309.0" x2="728.12" y2="321.0"/>
<rect x="726.92" y="312.2" width="2.4" height="8.3" fill="#e4e4e4" stroke-width="1.05"/>
<line x1="731.54" y1="317.5" x2="731.54" y2="339.0"/>
<rect x="730.34" y="318.0" width="2.4" height="13.2" fill="#e4e4e4" stroke-width="1.05"/>
<line x1="734.96" y1="305.0" x2="734.96" y2="316.7"/>
<rect x="733.76" y="305.5" width="2.4" height="10.7" fill="#e4e4e4" stroke-width="1.05"/>
<line x1="738.38" y1="295.0" x2="738.38" y2="303.0"/>
<rect x="736.68" y="297.5" width="3.4" height="5.5" fill="#000" stroke="none"/>
<line x1="741.80" y1="274.0" x2="741.80" y2="296.7"/>
<rect x="740.60" y="274.5" width="2.4" height="21.7" fill="#e4e4e4" stroke-width="1.05"/>
<line x1="745.22" y1="273.0" x2="745.22" y2="285.0"/>
<rect x="743.52" y="273.0" width="3.4" height="6.0" fill="#000" stroke="none"/>
<line x1="748.64" y1="306.0" x2="748.64" y2="320.0"/>
<rect x="747.44" y="309.5" width="2.4" height="6.0" fill="#e4e4e4" stroke-width="1.05"/>
<line x1="752.06" y1="291.7" x2="752.06" y2="307.5"/>
<rect x="750.86" y="292.2" width="2.4" height="9.8" fill="#e4e4e4" stroke-width="1.05"/>
<line x1="755.48" y1="286.0" x2="755.48" y2="313.0"/>
<rect x="753.78" y="292.5" width="3.4" height="14.2" fill="#000" stroke="none"/>
<line x1="758.90" y1="257.5" x2="758.90" y2="292.5"/>
<rect x="757.70" y="258.0" width="2.4" height="29.5" fill="#e4e4e4" stroke-width="1.05"/>
<line x1="762.32" y1="236.0" x2="762.32" y2="256.0"/>
<rect x="761.12" y="241.5" width="2.4" height="11.0" fill="#e4e4e4" stroke-width="1.05"/>
<line x1="765.74" y1="221.7" x2="765.74" y2="238.0"/>
<rect x="764.54" y="224.5" width="2.4" height="13.0" fill="#e4e4e4" stroke-width="1.05"/>
<line x1="769.16" y1="201.0" x2="769.16" y2="225.0"/>
<rect x="767.96" y="201.5" width="2.4" height="19.7" fill="#e4e4e4" stroke-width="1.05"/>
<line x1="772.58" y1="176.7" x2="772.58" y2="201.0"/>
<rect x="771.38" y="185.5" width="2.4" height="12.0" fill="#e4e4e4" stroke-width="1.05"/>
<line x1="776.00" y1="159.0" x2="776.00" y2="178.0"/>
<rect x="774.30" y="169.0" width="3.4" height="3.5" fill="#000" stroke="none"/>
<line x1="779.42" y1="168.0" x2="779.42" y2="189.0"/>
<rect x="777.72" y="169.0" width="3.4" height="15.0" fill="#000" stroke="none"/>
<line x1="782.84" y1="164.0" x2="782.84" y2="190.0"/>
<rect x="781.14" y="171.0" width="3.4" height="15.0" fill="#000" stroke="none"/>
<line x1="786.26" y1="122.5" x2="786.26" y2="160.0"/>
<rect x="785.06" y="123.0" width="2.4" height="36.5" fill="#e4e4e4" stroke-width="1.05"/>
<line x1="789.68" y1="111.0" x2="789.68" y2="155.0"/>
<rect x="787.98" y="117.5" width="3.4" height="30.5" fill="#000" stroke="none"/>
<line x1="793.10" y1="146.7" x2="793.10" y2="163.0"/>
<rect x="791.40" y="155.0" width="3.4" height="5.0" fill="#000" stroke="none"/>
<line x1="796.52" y1="144.0" x2="796.52" y2="157.0"/>
<rect x="794.82" y="155.9" width="3.4" height="1.2" fill="#000" stroke="none"/>
<line x1="799.94" y1="156.0" x2="799.94" y2="197.5"/>
<rect x="798.24" y="156.7" width="3.4" height="38.3" fill="#000" stroke="none"/>
<line x1="803.36" y1="174.0" x2="803.36" y2="199.0"/>
<rect x="802.16" y="184.5" width="2.4" height="11.0" fill="#e4e4e4" stroke-width="1.05"/>
<line x1="806.78" y1="151.7" x2="806.78" y2="170.0"/>
<rect x="805.58" y="152.2" width="2.4" height="17.3" fill="#e4e4e4" stroke-width="1.05"/>
<line x1="810.20" y1="146.0" x2="810.20" y2="172.5"/>
<rect x="808.50" y="155.0" width="3.4" height="17.5" fill="#000" stroke="none"/>
<line x1="813.62" y1="174.0" x2="813.62" y2="193.0"/>
<rect x="812.42" y="179.5" width="2.4" height="10.0" fill="#e4e4e4" stroke-width="1.05"/>
<line x1="817.04" y1="165.0" x2="817.04" y2="200.0"/>
<rect x="815.84" y="168.5" width="2.4" height="12.7" fill="#e4e4e4" stroke-width="1.05"/>
<line x1="820.46" y1="195.0" x2="820.46" y2="238.0"/>
<rect x="818.76" y="195.0" width="3.4" height="43.0" fill="#000" stroke="none"/>
<line x1="823.88" y1="177.5" x2="823.88" y2="202.5"/>
<rect x="822.68" y="178.0" width="2.4" height="24.0" fill="#e4e4e4" stroke-width="1.05"/>
<line x1="827.30" y1="148.0" x2="827.30" y2="176.0"/>
<rect x="826.10" y="148.5" width="2.4" height="22.0" fill="#e4e4e4" stroke-width="1.05"/>
<line x1="830.72" y1="144.0" x2="830.72" y2="161.7"/>
<rect x="829.52" y="146.5" width="2.4" height="14.7" fill="#e4e4e4" stroke-width="1.05"/>
<line x1="834.14" y1="147.5" x2="834.14" y2="186.0"/>
<rect x="832.44" y="147.5" width="3.4" height="28.5" fill="#000" stroke="none"/>
<line x1="837.56" y1="155.0" x2="837.56" y2="185.0"/>
<rect x="835.86" y="166.7" width="3.4" height="14.3" fill="#000" stroke="none"/>
<line x1="840.98" y1="148.0" x2="840.98" y2="164.0"/>
<rect x="839.78" y="148.5" width="2.4" height="15.0" fill="#e4e4e4" stroke-width="1.05"/>
<line x1="844.40" y1="112.0" x2="844.40" y2="146.7"/>
<rect x="843.20" y="114.5" width="2.4" height="26.7" fill="#e4e4e4" stroke-width="1.05"/>
<line x1="847.82" y1="67.5" x2="847.82" y2="118.0"/>
<rect x="846.62" y="71.5" width="2.4" height="42.0" fill="#e4e4e4" stroke-width="1.05"/>
<line x1="851.24" y1="50.8" x2="851.24" y2="69.0"/>
<rect x="850.04" y="51.3" width="2.4" height="14.9" fill="#e4e4e4" stroke-width="1.05"/>
<line x1="854.66" y1="17.5" x2="854.66" y2="43.0"/>
<rect x="853.46" y="34.5" width="2.4" height="3.0" fill="#e4e4e4" stroke-width="1.05"/>
<line x1="858.08" y1="33.0" x2="858.08" y2="50.8"/>
<rect x="856.38" y="41.4" width="3.4" height="1.2" fill="#000" stroke="none"/>
<line x1="861.50" y1="38.0" x2="861.50" y2="73.0"/>
<rect x="859.80" y="38.0" width="3.4" height="21.0" fill="#000" stroke="none"/>
<line x1="864.92" y1="60.0" x2="864.92" y2="89.0"/>
<rect x="863.22" y="66.7" width="3.4" height="8.3" fill="#000" stroke="none"/>
<line x1="868.34" y1="43.0" x2="868.34" y2="61.7"/>
<rect x="867.14" y="45.5" width="2.4" height="9.8" fill="#e4e4e4" stroke-width="1.05"/>
<line x1="871.76" y1="16.7" x2="871.76" y2="44.0"/>
<rect x="870.56" y="19.5" width="2.4" height="24.0" fill="#e4e4e4" stroke-width="1.05"/>
<line x1="875.18" y1="15.0" x2="875.18" y2="46.7"/>
<rect x="873.48" y="19.0" width="3.4" height="21.0" fill="#000" stroke="none"/>
<line x1="878.60" y1="29.0" x2="878.60" y2="59.0"/>
<rect x="877.40" y="34.5" width="2.4" height="12.5" fill="#e4e4e4" stroke-width="1.05"/>
<line x1="882.02" y1="39.0" x2="882.02" y2="57.5"/>
<rect x="880.32" y="45.8" width="3.4" height="9.2" fill="#000" stroke="none"/>
<line x1="885.44" y1="73.0" x2="885.44" y2="107.5"/>
<rect x="883.74" y="74.0" width="3.4" height="21.0" fill="#000" stroke="none"/>
<line x1="888.86" y1="61.7" x2="888.86" y2="82.5"/>
<rect x="887.66" y="62.2" width="2.4" height="19.8" fill="#e4e4e4" stroke-width="1.05"/>
<line x1="892.28" y1="50.8" x2="892.28" y2="72.5"/>
<rect x="891.08" y="51.3" width="2.4" height="8.2" fill="#e4e4e4" stroke-width="1.05"/>
<line x1="895.70" y1="76.7" x2="895.70" y2="127.0"/>
<rect x="894.00" y="86.7" width="3.4" height="40.3" fill="#000" stroke="none"/>
<line x1="899.12" y1="140.0" x2="899.12" y2="246.7"/>
<rect x="897.42" y="140.0" width="3.4" height="104.0" fill="#000" stroke="none"/>
<line x1="902.54" y1="241.7" x2="902.54" y2="372.5"/>
<rect x="901.34" y="271.5" width="2.4" height="19.0" fill="#e4e4e4" stroke-width="1.05"/>
<line x1="905.96" y1="210.0" x2="905.96" y2="260.0"/>
<rect x="904.76" y="213.5" width="2.4" height="19.0" fill="#e4e4e4" stroke-width="1.05"/>
<line x1="909.38" y1="226.0" x2="909.38" y2="279.0"/>
<rect x="907.68" y="260.0" width="3.4" height="7.0" fill="#000" stroke="none"/>
<line x1="912.80" y1="150.0" x2="912.80" y2="207.0"/>
<rect x="911.60" y="186.5" width="2.4" height="5.0" fill="#e4e4e4" stroke-width="1.05"/>
<line x1="916.22" y1="164.0" x2="916.22" y2="203.0"/>
<rect x="914.52" y="184.0" width="3.4" height="14.5" fill="#000" stroke="none"/>
</g>
<polyline points="6.5,599.4 40.0,584.0 86.7,559.5 110.0,546.7 150.0,525.0 180.0,508.5 200.0,498.5 220.0,488.5 230.0,483.5 245.0,476.5 270.0,460.0 300.0,439.0 320.0,427.5 336.7,420.0 353.0,415.0 370.0,406.7 386.7,401.0 400.0,396.7 420.0,391.0 436.7,386.7 453.0,383.0 470.0,380.0 486.7,378.5 500.0,376.0 533.0,371.0 566.7,365.0 583.0,362.0 633.0,361.7 641.7,362.0 670.0,363.0 710.0,361.7 748.0,359.0 778.0,351.7 816.7,345.0 836.7,342.0 853.0,337.0 875.0,330.0 890.0,323.0 900.0,320.8 916.7,320.0" fill="none" stroke="#000" stroke-width="2.0" stroke-linejoin="round" stroke-linecap="round"/>
<polyline points="6.5,503.3 26.7,490.0 48.0,475.0 75.0,460.0 113.0,438.0 133.0,425.0 153.0,413.0 180.0,397.0 200.0,386.7 213.0,378.0 246.7,354.5 273.0,339.0 288.0,333.5 306.7,331.0 320.0,331.0 330.0,327.5 341.7,330.5 356.7,329.0 368.0,325.0 386.7,323.0 403.0,322.5 420.0,323.0 436.7,326.0 453.0,328.0 470.0,331.0 486.7,337.5 503.0,343.0 520.0,347.5 533.0,352.5 550.0,356.7 566.7,361.0 583.0,368.0 600.0,378.0 616.7,386.7 633.0,391.7 650.0,395.0 666.7,399.0 683.0,398.5 703.0,398.0 728.0,396.7 750.0,395.0 763.0,391.0 778.0,380.0 795.0,369.0 816.7,356.7 836.7,343.0 853.0,330.0 875.0,308.0 893.0,288.0 905.0,282.5 916.7,277.0" fill="none" stroke="#0000ee" stroke-width="2.0" stroke-linejoin="round" stroke-linecap="round"/>
<polyline points="6.3,462.8 10.0,461.5 15.7,459.0 23.0,454.0 30.7,448.6 36.0,443.5 40.7,437.9 50.7,425.7 60.0,415.7 68.6,410.0 80.0,406.4 85.0,404.5 90.0,399.5 100.0,392.5 113.0,385.0 126.7,377.0 135.0,371.0 140.0,367.0 145.0,362.5 166.7,341.7 183.0,332.0 200.0,323.0 205.0,320.8 228.0,316.5 246.7,303.0 266.7,293.0 278.0,289.5 290.0,288.5 303.0,290.0 320.0,300.0 336.7,315.0 346.7,321.7 361.7,327.0 380.0,328.0 390.0,329.0 408.0,336.0 423.0,348.0 436.7,358.0 450.0,366.7 461.7,371.7 478.0,376.7 488.0,378.0 503.0,376.0 510.0,373.0 521.7,371.0 533.0,375.0 550.0,384.0 566.7,388.0 580.0,396.7 600.0,403.0 616.7,409.0 633.0,410.0 650.0,412.5 666.7,418.0 680.0,422.0 690.0,422.8 703.0,421.7 720.0,415.0 736.7,405.0 750.0,394.0 763.0,376.7 776.7,353.0 790.0,333.0 806.7,318.0 820.0,300.0 833.0,280.0 846.7,255.0 860.0,228.0 866.7,213.0 876.7,191.7 883.0,180.0 891.7,166.7 896.7,161.7 906.7,158.0 916.3,155.0" fill="none" stroke="#009a00" stroke-width="2.0" stroke-linejoin="round" stroke-linecap="round"/>
<g stroke="#ff0000" fill="#ff0000" stroke-width="2.0" stroke-linecap="round">
<line x1="242.6" y1="533.5" x2="307.1" y2="503.7"/>
<polygon points="321.6,497.0 310.1,510.3 304.0,497.1" stroke="none"/>
<line x1="505.0" y1="566.6" x2="560.9" y2="527.4"/>
<polygon points="574.0,518.2 565.1,533.4 556.7,521.4" stroke="none"/>
<line x1="632.5" y1="530.2" x2="652.4" y2="493.4"/>
<polygon points="660.0,479.3 658.8,496.8 646.0,489.9" stroke="none"/>
<line x1="447.0" y1="283.8" x2="457.8" y2="306.9"/>
<polygon points="464.6,321.4 451.2,310.0 464.4,303.8" stroke="none"/>
<line x1="497.7" y1="296.3" x2="505.0" y2="324.7"/>
<polygon points="509.0,340.2 497.9,326.5 512.1,322.9" stroke="none"/>
<line x1="580.5" y1="303.9" x2="609.3" y2="348.1"/>
<polygon points="618.0,361.5 603.2,352.1 615.4,344.1" stroke="none"/>
<line x1="655.7" y1="306.4" x2="686.7" y2="343.1"/>
<polygon points="697.0,355.3 681.1,347.8 692.3,338.4" stroke="none"/>
<line x1="775.0" y1="146.0" x2="792.2" y2="204.6"/>
<polygon points="796.7,220.0 785.2,206.7 799.2,202.6" stroke="none"/>
<line x1="826.7" y1="223.3" x2="849.3" y2="150.3"/>
<polygon points="854.0,135.0 856.2,152.4 842.3,148.1" stroke="none"/>
<line x1="841.3" y1="442.7" x2="878.9" y2="400.6"/>
<polygon points="889.6,388.7 884.4,405.5 873.5,395.8" stroke="none"/>
<line x1="881.7" y1="219.3" x2="901.4" y2="304.4"/>
<polygon points="905.0,320.0 894.3,306.1 908.5,302.8" stroke="none"/>
<line x1="911.7" y1="310.7" x2="957.5" y2="208.6"/>
<polygon points="964.0,194.0 964.1,211.6 950.8,205.6" stroke="none"/>
</g>
<rect x="1092" y="0" width="108" height="630" fill="#fff"/>
<rect x="0" y="611.5" width="1092" height="19" fill="#fff"/>
<g stroke="#000" fill="none">
<line x1="0.55" y1="0" x2="0.55" y2="611" stroke-width="1.1"/>
<line x1="1091.7" y1="7" x2="1091.7" y2="630" stroke-width="1.4"/>
<line x1="0" y1="611.3" x2="1092" y2="611.3" stroke-width="1.6"/>
<line x1="1092" y1="609.5" x2="1097" y2="609.5" stroke-width="1.2"/>
<line x1="1092" y1="566.5" x2="1097" y2="566.5" stroke-width="1.2"/>
<line x1="1092" y1="523.5" x2="1097" y2="523.5" stroke-width="1.2"/>
<line x1="1092" y1="480.5" x2="1097" y2="480.5" stroke-width="1.2"/>
<line x1="1092" y1="437.5" x2="1097" y2="437.5" stroke-width="1.2"/>
<line x1="1092" y1="394.5" x2="1097" y2="394.5" stroke-width="1.2"/>
<line x1="1092" y1="351.5" x2="1097" y2="351.5" stroke-width="1.2"/>
<line x1="1092" y1="308.5" x2="1097" y2="308.5" stroke-width="1.2"/>
<line x1="1092" y1="265.5" x2="1097" y2="265.5" stroke-width="1.2"/>
<line x1="1092" y1="222.5" x2="1097" y2="222.5" stroke-width="1.2"/>
<line x1="1092" y1="179.5" x2="1097" y2="179.5" stroke-width="1.2"/>
<line x1="1092" y1="136.5" x2="1097" y2="136.5" stroke-width="1.2"/>
<line x1="1092" y1="93.5" x2="1097" y2="93.5" stroke-width="1.2"/>
<line x1="1092" y1="50.5" x2="1097" y2="50.5" stroke-width="1.2"/>
<line x1="1092" y1="7.5" x2="1097" y2="7.5" stroke-width="1.2"/>
<line x1="40.75" y1="611" x2="40.75" y2="617.5" stroke-width="1.3"/>
<line x1="112.00" y1="611" x2="112.00" y2="617.5" stroke-width="1.3"/>
<line x1="180.50" y1="611" x2="180.50" y2="617.5" stroke-width="1.3"/>
<line x1="248.25" y1="611" x2="248.25" y2="617.5" stroke-width="1.3"/>
<line x1="327.00" y1="611" x2="327.00" y2="617.5" stroke-width="1.3"/>
<line x1="399.50" y1="611" x2="399.50" y2="617.5" stroke-width="1.3"/>
<line x1="471.25" y1="611" x2="471.25" y2="617.5" stroke-width="1.3"/>
<line x1="550.00" y1="611" x2="550.00" y2="617.5" stroke-width="1.3"/>
<line x1="614.25" y1="611" x2="614.25" y2="617.5" stroke-width="1.3"/>
<line x1="748.50" y1="611" x2="748.50" y2="617.5" stroke-width="1.3"/>
<line x1="816.50" y1="611" x2="816.50" y2="617.5" stroke-width="1.3"/>
<line x1="889.50" y1="611" x2="889.50" y2="617.5" stroke-width="1.3"/>
<line x1="676.75" y1="611" x2="676.75" y2="617.5" stroke-width="1.3"/>
</g>
<g font-size="23" fill="#111" text-anchor="end">
<text transform="translate(1193.5,618.0) scale(0.97,1)">72,000</text>
<text transform="translate(1193.5,575.0) scale(0.97,1)">74,000</text>
<text transform="translate(1193.5,532.0) scale(0.97,1)">76,000</text>
<text transform="translate(1193.5,489.0) scale(0.97,1)">78,000</text>
<text transform="translate(1193.5,446.0) scale(0.97,1)">80,000</text>
<text transform="translate(1193.5,403.0) scale(0.97,1)">82,000</text>
<text transform="translate(1193.5,360.0) scale(0.97,1)">84,000</text>
<text transform="translate(1193.5,317.0) scale(0.97,1)">86,000</text>
<text transform="translate(1193.5,274.0) scale(0.97,1)">88,000</text>
<text transform="translate(1193.5,231.0) scale(0.97,1)">90,000</text>
<text transform="translate(1193.5,188.0) scale(0.97,1)">92,000</text>
<text transform="translate(1193.5,145.0) scale(0.97,1)">94,000</text>
<text transform="translate(1193.5,102.0) scale(0.97,1)">96,000</text>
<text transform="translate(1193.5,59.0) scale(0.97,1)">98,000</text>
<text transform="translate(1193.5,16.0) scale(0.97,1)">100,000</text>
</g>
<g font-size="23" fill="#111">
<text transform="translate(43.8,633.1) scale(0.97,1)">Apr</text>
<text transform="translate(115.0,633.1) scale(0.97,1)">May</text>
<text transform="translate(183.5,633.1) scale(0.97,1)">Jun</text>
<text transform="translate(251.2,633.1) scale(0.97,1)">Jul</text>
<text transform="translate(330.0,633.1) scale(0.97,1)">Aug</text>
<text transform="translate(402.5,633.1) scale(0.97,1)">Sep</text>
<text transform="translate(474.2,633.1) scale(0.97,1)">Oct</text>
<text transform="translate(553.0,633.1) scale(0.97,1)">Nov</text>
<text transform="translate(617.2,633.1) scale(0.97,1)">Dec</text>
<text transform="translate(751.5,633.1) scale(0.97,1)">Feb</text>
<text transform="translate(819.5,633.1) scale(0.97,1)">Mar</text>
<text transform="translate(892.5,633.1) scale(0.97,1)">Apr</text>
<text transform="translate(680.4,633.1) scale(0.97,1)" font-weight="bold">2025</text>
</g>
<g font-size="23">
<rect x="1105" y="141.5" width="95" height="25.5" fill="#009a00"/>
<text transform="translate(1113.0,162.6) scale(0.97,1)" fill="#fff">93,151.7</text>
<polygon points="1092,199.5 1105,186.8 1190,186.8 1190,212 1105,212" fill="#000"/>
<text transform="translate(1113.0,208.2) scale(0.97,1)" fill="#fff">91,120</text>
<rect x="1105" y="263.5" width="95" height="25.7" fill="#1414ee"/>
<text transform="translate(1113.0,284.6) scale(0.97,1)" fill="#fff">87,472.1</text>
<rect x="1105" y="306.5" width="95" height="25.7" fill="#000"/>
<text transform="translate(1113.0,327.0) scale(0.97,1)" fill="#fff">85,472.9</text>
</g>
<clipPath id="tc"><rect x="0" y="0" width="1090" height="12"/></clipPath>
<g font-size="23" fill="#000" stroke="#000" stroke-width="0.2" clip-path="url(#tc)">
<text transform="translate(6.0,2.3) scale(1,1)">WIG</text>
<text transform="translate(58.0,2.3) scale(1,1)">-</text>
<text transform="translate(73.3,2.3) scale(1,1)">Daily</text>
<text transform="translate(125.3,2.3) scale(1.06,1)">4/16/2025</text>
<text transform="translate(247.5,2.3) scale(1,1)">Open</text>
<text transform="translate(311.0,2.3) scale(1,1)">91620.0,</text>
<text transform="translate(405.2,2.3) scale(1,1)">Hi</text>
<text transform="translate(430.0,2.3) scale(1,1)">92746.0,</text>
<text transform="translate(526.5,2.3) scale(1,1)">Lo</text>
<text transform="translate(559.0,2.3) scale(1,1)">90576.0,</text>
<text transform="translate(655.5,2.3) scale(1,1)">Close</text>
<text transform="translate(719.0,2.3) scale(1,1)">91120</text>
<text transform="translate(791.5,2.3) scale(1,1)">(-0.9%)</text>
<text transform="translate(866.0,2.3) scale(1,1)">Vol</text>
<text transform="translate(903.5,2.3) scale(1,1)">40,346,000</text>
</g>
<g font-size="23" fill="#009a00" stroke="#009a00" stroke-width="0.2" clip-path="url(#tc)">
<text transform="translate(1025.3,2.3)">MA(Cl</text>
</g>
</svg>
</body></html>
